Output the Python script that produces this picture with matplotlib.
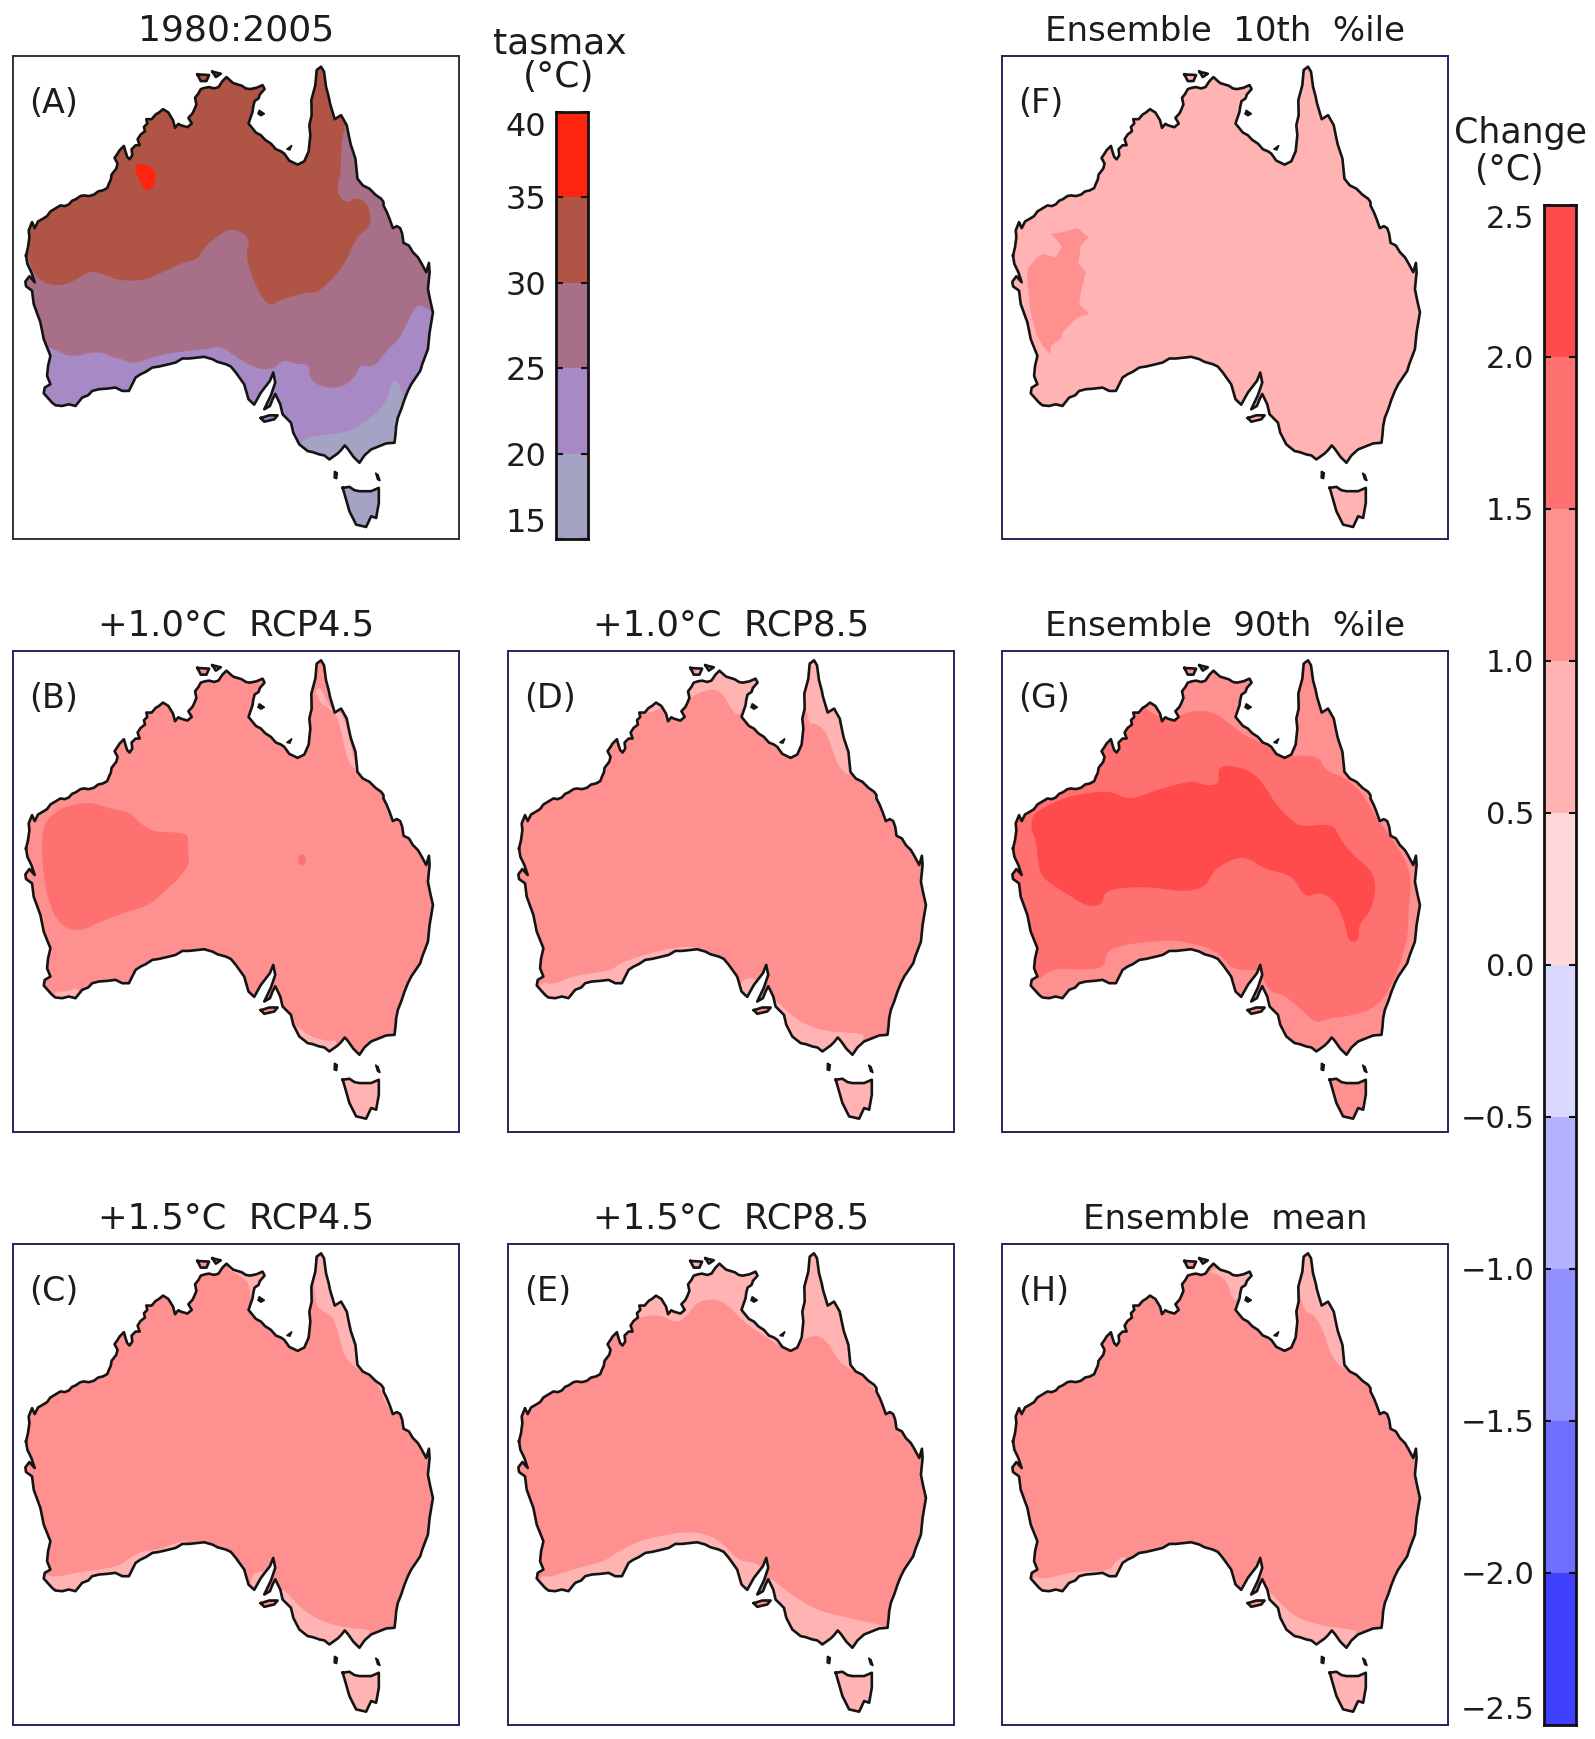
import matplotlib
matplotlib.use('Agg')
import matplotlib.pyplot as plt
from matplotlib.patches import PathPatch, Polygon
from matplotlib.path import Path

# map outline, in map grid units
coast = [(42,600),(48,575),(52,545),(50,525),(60,500),(68,518),(78,498),(92,490),(105,482),(115,468),(125,462),(145,450),(158,452),(170,447),
         (180,436),(190,432),(205,422),(215,420),(230,422),(245,418),(258,408),(272,405),(285,398),(290,385),(296,372),(298,358),(312,340),
         (316,325),(307,308),(316,295),(322,285),(335,272),(340,290),(345,305),(352,312),(360,300),(358,282),(370,270),(382,270),(376,252),
         (385,238),(398,228),(395,215),(405,205),(402,192),(418,192),(430,178),(440,172),(452,162),(468,172),(482,195),(488,218),(498,206),
         (505,210),(525,216),(538,205),(528,188),(540,175),(545,165),(552,148),(548,128),(558,115),(565,102),(578,98),(590,96),(605,100),
         (618,96),(630,78),(642,66),(655,78),(662,84),(675,88),(688,92),(700,100),(712,102),(732,98),(750,90),(756,102),(742,118),(738,130),
         (726,138),(722,155),(720,170),(708,205),(730,232),(745,240),(758,254),(775,265),(790,282),(805,288),(815,295),(830,316),
         (855,328),(875,318),(888,288),(893,240),(890,210),(897,180),(896,135),(908,90),(912,45),(925,35),(934,50),(940,95),(948,125),(952,145),
         (966,192),(985,180),(1002,210),(1008,240),(1014,268),(1028,310),(1034,370),(1050,390),(1070,400),(1088,418),(1105,430),(1112,440),
         (1112,450),(1122,470),(1130,490),(1140,518),(1152,512),(1162,518),(1168,535),(1172,562),(1188,570),(1200,590),(1215,605),(1225,622),
         (1240,650),(1248,622),(1250,650),(1245,700),(1252,735),(1260,770),(1250,830),(1245,880),(1228,925),(1222,945),(1205,970),(1195,985),
         (1185,1005),(1175,1030),(1165,1060),(1155,1085),(1150,1110),(1148,1135),(1145,1160),(1120,1162),(1100,1170),(1075,1180),
         (1055,1198),(1040,1220),(1022,1202),(1005,1178),(996,1168),(985,1182),(975,1192),(950,1210),(935,1198),(920,1195),(900,1188),(885,1185),
         (860,1165),(842,1130),(835,1100),(810,1075),(803,1045),(788,1014),(780,1030),(772,1050),(755,1060),(775,1018),
         (788,980),(782,950),(772,975),(745,1010),(725,1046),(708,1030),(695,985),(670,950),(655,932),(640,925),(615,918),(600,910),(575,903),
         (530,908),(510,908),(490,920),(470,925),(440,932),(420,935),(400,948),(385,955),(370,965),(360,985),(350,1005),(330,1005),(310,995),
         (285,998),(260,1000),(240,1005),(228,1018),(210,1025),(190,1050),(170,1045),(150,1050),(130,1048),(120,1040),
         (95,1012),(98,995),(115,985),(105,960),(108,930),(115,900),(95,850),(85,800),(65,745),(60,705),(42,692),(40,678),
         (52,662),(68,680),(58,650),(46,625)]
tasmania = [(990,1295),(1010,1292),(1025,1302),(1040,1305),(1075,1305),(1098,1295),(1098,1340),(1090,1385),(1075,1380),(1060,1412),(1030,1405),(1010,1365),(1000,1330)]
kangaroo = [(745,1086),(770,1078),(795,1078),(785,1090),(755,1097)]
melville = [(555,58),(590,60),(582,78),(565,78)]
bathurst = [(600,50),(625,56),(610,66)]
groote = [(740,165),(756,176),(745,182),(736,176)]
mornington = [(822,282),(838,270),(832,284)]
king = [(965,1245),(974,1250),(972,1268),(964,1265)]
flinders = [(1088,1250),(1096,1256),(1102,1274),(1094,1270)]

# band levels and colours of the two keys
abs_levels = [15, 20, 25, 30, 35, 40]
abs_colors = ['#A5A3C4', '#A78AC5', '#A87088', '#B05545', '#FF2410']
chg_levels = [-2.5, -2.0, -1.5, -1.0, -0.5, 0.0, 0.5, 1.0, 1.5, 2.0, 2.5]
chg_colors = ['#4040FF', '#6E6EFF', '#9090FF', '#B3B3FF', '#D9D9FF', '#FFD9D9', '#FFB3B3', '#FF9090', '#FF7070', '#FF4B4B']
abs_labels = ['15', '20', '25', '30', '35', '40']
chg_labels = ['\u22122.5', '\u22122.0', '\u22121.5', '\u22121.0', '\u22120.5', '0.0', '0.5', '1.0', '1.5', '2.0', '2.5']

C_LIGHT = '#FFB3B3'
C_BASE = '#FF9090'
C_MID = '#FF7070'
C_DARK = '#FF4B4B'

tas_box = [(950,1275),(1120,1275),(1120,1430),(950,1430)]

a_hot = [(45,590),(60,640),(80,675),(135,692),(180,680),(235,645),(270,655),(320,675),(400,675),(470,640),(520,618),(555,612),
         (575,575),(620,540),(650,520),(690,530),(712,555),(700,600),(720,670),(765,755),(810,730),(880,710),(910,712),(950,680),
         (1000,620),(1030,545),(1070,515),(1075,480),(1060,440),(1030,425),(1000,445),(970,410),(985,350),(985,260),(1000,210),
         (1010,0),(0,0),(0,590)]
a_red = [(368,330),(390,325),(425,340),(433,365),(420,400),(400,408),(385,385),(370,350)]
a_cool = [(100,870),(135,885),(175,905),(260,885),(300,905),(330,910),(365,925),(430,900),(520,885),(590,880),(625,870),(680,910),
          (735,940),(785,940),(810,910),(850,925),(890,925),(890,970),(930,995),(990,995),(1030,960),(1040,925),(1085,935),
          (1120,885),(1160,850),(1195,775),(1215,745),(1255,765),(1300,800),(1300,1270),(0,1270),(0,870)]
a_cold = [(860,1155),(900,1140),(1000,1130),(1060,1100),(1120,1040),(1135,985),(1150,970),(1165,1000),(1200,1100),(1200,1260),(840,1260)]

b_cape = [(905,125),(925,115),(945,165),(965,190),(985,190),(1000,230),(1030,360),(1040,375),(1005,340),(990,270),(975,205),(950,180),(925,165)]
b_sw = [(125,1030),(170,1030),(200,1015),(200,1070),(120,1070)]
b_se = [(850,1130),(890,1165),(950,1180),(975,1175),(960,1215),(880,1205),(835,1140)]
b_blob = [(90,545),(115,500),(165,472),(235,460),(290,480),(350,490),(385,525),(420,550),(500,552),(530,560),(525,600),(533,645),
          (500,690),(460,725),(415,770),(330,795),(265,820),(205,850),(150,835),(120,790),(100,720),(90,640)]
b_spot = [(855,625),(870,615),(882,630),(875,650),(860,650)]

c_cape = [(895,0),(908,190),(925,205),(960,225),(975,265),(990,330),(1010,365),(1040,385),(1090,420),(1110,460),(1120,495),(1150,520),
          (1150,440),(1100,400),(1050,350),(1030,250),(1000,170),(950,0)]
c_nt = [(640,80),(670,95),(695,110),(710,130),(715,180),(725,180),(770,100),(700,60)]
c_south = [(100,1000),(130,1008),(190,995),(260,985),(320,975),(345,955),(385,930),(440,925),(490,905),(530,895),(500,930),(370,975),
           (350,1020),(200,1070),(100,1060),(90,1000)]
c_se = [(810,1040),(850,1085),(890,1120),(940,1145),(1000,1160),(1060,1165),(1075,1170),(1040,1230),(900,1210),(830,1120),(800,1060)]
c_gulf = [(715,1000),(760,985),(760,1050),(715,1050)]

d_nt = [(550,155),(580,130),(630,120),(655,140),(680,185),(700,205),(770,130),(720,40),(560,50),(530,180)]
d_kim = [(425,195),(470,180),(480,160),(420,170)]
d_cape = [(880,0),(905,225),(930,225),(960,245),(985,320),(1000,355),(1030,385),(1060,350),(1020,240),(990,170),(950,0)]
d_south = [(110,1000),(140,1010),(200,985),(260,975),(320,965),(345,945),(400,925),(470,905),(540,895),(580,898),(560,930),(380,985),
           (340,1020),(190,1070),(90,1050)]
d_se = [(805,1050),(850,1095),(900,1130),(960,1150),(1060,1155),(1080,1165),(1040,1230),(900,1210),(830,1130),(790,1060)]
d_gulf = [(710,990),(760,990),(740,1060),(700,1040)]

e_north = [(380,250),(400,225),(470,220),(510,245),(545,225),(570,185),(610,172),(650,178),(680,205),(720,245),(770,280),(810,305),
           (850,330),(885,295),(930,280),(960,295),(985,335),(1010,370),(1040,385),(1085,420),(1110,450),(1125,490),(1150,520),
           (1200,400),(1000,0),(400,0)]
e_south = [(110,1000),(130,1010),(200,985),(300,960),(340,930),(400,900),(480,880),(560,870),(620,885),(660,915),(700,960),(760,965),
           (770,1000),(780,1100),(600,980),(370,1030),(200,1080),(90,1050)]
e_se = [(785,1000),(830,1040),(880,1075),(940,1110),(1050,1135),(1120,1150),(1140,1160),(1040,1240),(900,1220),(820,1120),(780,1060)]

f_patch = [(155,535),(190,530),(235,518),(268,545),(245,570),(238,625),(260,650),(245,710),(240,745),(270,775),(235,785),(190,830),
           (185,850),(155,870),(155,895),(130,870),(110,830),(95,770),(85,680),(85,640),(110,610),(130,595),(170,605),(188,575),(175,555)]

g_mid = [(535,205),(565,190),(610,185),(650,195),(690,225),(725,255),(780,280),(830,310),(860,325),(900,320),(960,325),(975,365),
         (1030,385),(1075,420),(1110,470),(1130,510),(1170,560),(1220,640),(1235,700),(1225,790),(1225,860),(1200,950),(1170,1020),
         (1145,1060),(1100,1090),(1040,1105),(990,1110),(950,1125),(920,1100),(890,1070),(850,1040),(810,1030),(795,1000),(780,970),
         (760,965),(700,965),(660,915),(600,890),(520,875),(470,880),(400,885),(320,905),(318,960),(240,965),(180,960),(140,975),
         (115,1000),(0,900),(0,470),(300,150),(400,150),(480,210)]
g_dark = [(95,545),(100,500),(130,480),(200,445),(290,430),(340,430),(390,455),(470,425),(580,395),(610,410),(660,410),(655,350),
          (720,355),(770,380),(800,420),(830,470),(880,520),(910,535),(1000,525),(1020,570),(1060,620),(1130,680),(1120,780),
          (1075,830),(1078,880),(1045,880),(1040,840),(1010,760),(960,730),(915,750),(880,680),(800,665),(740,625),(690,635),
          (640,670),(620,715),(560,730),(480,720),(420,715),(315,725),(310,770),(265,775),(200,735),(130,690),(118,650),(110,570)]

h_nt = [(620,90),(660,100),(690,130),(700,190),(770,120),(720,60)]
h_cape = [(880,0),(905,205),(945,220),(970,265),(990,330),(1010,365),(1040,385),(1080,350),(1020,230),(980,170),(950,0)]
h_south = [(105,1000),(130,1015),(190,1000),(240,990),(330,990),(350,960),(380,940),(400,1000),(200,1080),(90,1050)]
h_se = [(805,1045),(850,1095),(900,1135),(975,1155),(1050,1165),(1075,1170),(1040,1230),(900,1215),(830,1130),(795,1060)]

FIG_W, FIG_H = 1595, 1739
fig = plt.figure(figsize=(FIG_W / 100, FIG_H / 100), dpi=100, facecolor='white')


def add_px_axes(left, top, right, bottom):
    return fig.add_axes([left / FIG_W, 1 - bottom / FIG_H, (right - left) / FIG_W, (bottom - top) / FIG_H])


def round_corners(poly):
    # contour edges in the figure are soft, so cut the corners of the outline
    for _ in range(2):
        out = []
        for (x0, y0), (x1, y1) in zip(poly, poly[1:] + poly[:1]):
            out.append((0.75 * x0 + 0.25 * x1, 0.75 * y0 + 0.25 * y1))
            out.append((0.25 * x0 + 0.75 * x1, 0.25 * y0 + 0.75 * y1))
        poly = out
    return poly


land_parts = [coast, tasmania, kangaroo, melville, bathurst]
land_path = Path.make_compound_path(*[Path(p + [p[0]], closed=True) for p in land_parts])

col_px = [(13, 459), (508, 954), (1002, 1448)]
row_px = [(56, 539), (651, 1132), (1244, 1725)]
col_shift = [0, 6, 6]
row_shift = [0, 4, 4]


def draw_panel(col, row, title, tag, base, regions, frame='#25255F', size=25.5):
    ax = add_px_axes(col_px[col][0], row_px[row][0], col_px[col][1], row_px[row][1])
    dx, dy = col_shift[col], row_shift[row]
    ax.set_xlim(3 + dx, 3 + dx + 1335)
    ax.set_ylim(3 + dy + 1445, 3 + dy)
    ax.set_xticks([])
    ax.set_yticks([])
    for s in ax.spines.values():
        s.set_color(frame)
        s.set_linewidth(1.4)
    ax.set_title(title, fontsize=size, pad=11, color='#1c1c1c')
    ax.text(50 + dx, 146 + dy, tag, fontsize=24, va='center', ha='left', color='#1c1c1c')

    land = PathPatch(land_path, facecolor=base, edgecolor='none', zorder=1)
    ax.add_patch(land)
    for color, poly in regions:
        verts = poly if poly is f_patch else round_corners(poly)
        pp = Polygon(verts, closed=True, facecolor=color, edgecolor='none', zorder=2)
        ax.add_patch(pp)
        pp.set_clip_path(land)
    for part in land_parts:
        xs = [p[0] for p in part] + [part[0][0]]
        ys = [p[1] for p in part] + [part[0][1]]
        ax.plot(xs, ys, color='#141414', lw=1.9, solid_joinstyle='round', zorder=3)
    for part in [groote, mornington, king, flinders]:
        ax.fill([p[0] for p in part], [p[1] for p in part], color='#141414', zorder=3)


draw_panel(0, 0, '1980:2005', '(A)', abs_colors[2],
           [(abs_colors[3], a_hot), (abs_colors[4], a_red), (abs_colors[1], a_cool), (abs_colors[0], a_cold), (abs_colors[0], tas_box)],
           frame='#333333', size=26)
draw_panel(0, 1, '+1.0\u00b0C  RCP4.5', '(B)', C_BASE,
           [(C_LIGHT, b_cape), (C_LIGHT, b_sw), (C_LIGHT, b_se), (C_LIGHT, tas_box), (C_MID, b_blob), (C_MID, b_spot)])
draw_panel(0, 2, '+1.5\u00b0C  RCP4.5', '(C)', C_BASE,
           [(C_LIGHT, c_cape), (C_LIGHT, c_nt), (C_LIGHT, c_south), (C_LIGHT, c_se), (C_LIGHT, c_gulf), (C_LIGHT, tas_box)])
draw_panel(1, 1, '+1.0\u00b0C  RCP8.5', '(D)', C_BASE,
           [(C_LIGHT, d_nt), (C_LIGHT, d_kim), (C_LIGHT, d_cape), (C_LIGHT, d_south), (C_LIGHT, d_se), (C_LIGHT, d_gulf), (C_LIGHT, tas_box)])
draw_panel(1, 2, '+1.5\u00b0C  RCP8.5', '(E)', C_BASE,
           [(C_LIGHT, e_north), (C_LIGHT, e_south), (C_LIGHT, e_se), (C_LIGHT, tas_box)])
draw_panel(2, 0, 'Ensemble  10th  %ile', '(F)', C_LIGHT, [(C_BASE, f_patch)], size=24.5)
draw_panel(2, 1, 'Ensemble  90th  %ile', '(G)', C_BASE, [(C_MID, g_mid), (C_DARK, g_dark)], size=24.5)
draw_panel(2, 2, 'Ensemble  mean', '(H)', C_BASE,
           [(C_LIGHT, h_nt), (C_LIGHT, h_cape), (C_LIGHT, h_south), (C_LIGHT, h_se), (C_LIGHT, tas_box)], size=24.5)


def draw_key(box, levels, colors, labels, size):
    ax = add_px_axes(*box)
    for lo, hi, c in zip(levels[:-1], levels[1:], colors):
        ax.bar(0, hi - lo, bottom=lo, width=1, color=c, edgecolor='none')
    ax.set_xlim(-0.5, 0.5)
    ax.set_ylim(levels[0], levels[-1])
    ax.set_xticks([])
    ax.set_yticks(levels)
    ax.set_yticklabels(labels, fontsize=size, color='#1c1c1c')
    ax.tick_params(axis='y', direction='in', left=True, right=True, length=5, width=1.5, pad=7, color='#111111')
    lab = ax.get_yticklabels()
    lab[0].set_verticalalignment('bottom')
    lab[-1].set_verticalalignment('top')
    for s in ax.spines.values():
        s.set_linewidth(2.0)
        s.set_color('#111111')


draw_key((556, 112, 588, 539), abs_levels, abs_colors, abs_labels, 23)
draw_key((1544, 205, 1576, 1725), chg_levels, chg_colors, chg_labels, 22)

fig.text(560 / FIG_W, 1 - 43 / FIG_H, 'tasmax', fontsize=26, ha='center', va='center', color='#1c1c1c')
fig.text(559 / FIG_W, 1 - 77 / FIG_H, '(\u00b0C)', fontsize=26, ha='center', va='center', color='#1c1c1c')
fig.text(1520 / FIG_W, 1 - 133 / FIG_H, 'Change', fontsize=25, ha='center', va='center', color='#1c1c1c')
fig.text(1509 / FIG_W, 1 - 170 / FIG_H, '(\u00b0C)', fontsize=25, ha='center', va='center', color='#1c1c1c')

fig.savefig('out.png', dpi=100, facecolor='white')
